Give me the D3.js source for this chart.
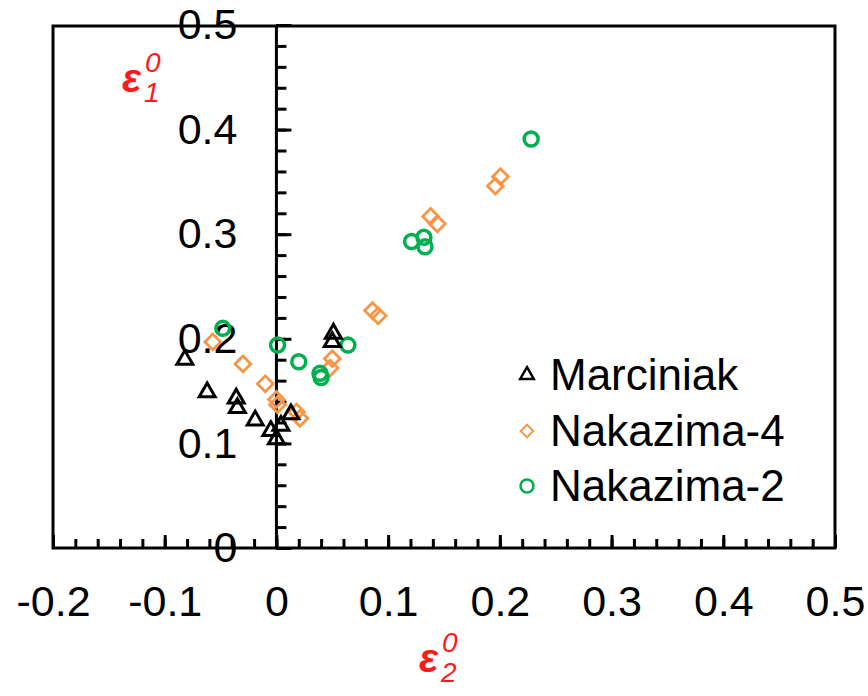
<!DOCTYPE html>
<html>
<head>
<meta charset="utf-8">
<script src="https://cdn.jsdelivr.net/npm/d3@7"></script>
<style>
  body { margin: 0; background: #fff; }
  text { font-family: "Liberation Sans", Arial, sans-serif; }
</style>
</head>
<body>
<svg></svg>
<script>
let width = 868;
let height = 696;

// data
let marciniakX = [-0.082, -0.062, -0.036, -0.035, -0.019, -0.005, 0.000, 0.004, 0.013, 0.051, 0.050];
let marciniakY = [0.180, 0.149, 0.143, 0.134, 0.122, 0.112, 0.104, 0.117, 0.128, 0.205, 0.197];

let naka4X = [-0.057, -0.030, -0.010, 0.000, 0.001, 0.018, 0.021, 0.048, 0.050, 0.086, 0.091, 0.138, 0.144, 0.196, 0.2005];
let naka4Y = [0.197, 0.176, 0.157, 0.142, 0.137, 0.130, 0.124, 0.172, 0.181, 0.227, 0.222, 0.317, 0.310, 0.346, 0.355];

let naka2X = [-0.048, 0.001, 0.020, 0.039, 0.040, 0.064, 0.121, 0.132, 0.133, 0.228];
let naka2Y = [0.210, 0.194, 0.178, 0.167, 0.163, 0.194, 0.293, 0.297, 0.288, 0.391];

let xTicks = [-0.2, -0.1, 0, 0.1, 0.2, 0.3, 0.4, 0.5];
let yTicks = [0, 0.1, 0.2, 0.3, 0.4, 0.5];
let seriesNames = ["Marciniak", "Nakazima-4", "Nakazima-2"];

let plotLeft = 53, plotRight = 835, plotTop = 25, plotBottom = 548;

let svg = d3.select('svg').attr('width', width).attr('height', height);

let xScale = d3.scaleLinear().domain([-0.2, 0.5]).range([plotLeft, plotRight]);
let yScale = d3.scaleLinear().domain([0, 0.5]).range([plotBottom, plotTop]);

//minor ticks every 0.02
let xMinor = d3.range(-10, 26).map(i => +(i * 0.02).toFixed(2));
let yMinor = d3.range(0, 26).map(i => +(i * 0.02).toFixed(2));

//frame
svg.append('rect')
    .attr('x', plotLeft).attr('y', plotTop + 1)
    .attr('width', plotRight - plotLeft).attr('height', plotBottom - plotTop - 1)
    .attr('fill', 'none').attr('stroke', '#000').attr('stroke-width', 3);

//bottom ticks pointing up
let xMinorAxis = d3.axisTop(xScale).tickValues(xMinor).tickSize(9).tickFormat('');
svg.append('g').attr('transform', 'translate(0,' + plotBottom + ')').call(xMinorAxis)
    .call(g => g.select('.domain').remove())
    .selectAll('line').attr('stroke-width', 3);
let xMajorAxis = d3.axisTop(xScale).tickValues(xTicks).tickSize(13).tickFormat('');
svg.append('g').attr('transform', 'translate(0,' + plotBottom + ')').call(xMajorAxis)
    .call(g => g.select('.domain').remove())
    .selectAll('line').attr('stroke-width', 3);

//x labels
let xLabels = d3.axisBottom(xScale).tickValues(xTicks).tickSize(0).tickPadding(37)
    .tickFormat(d => String(+d.toFixed(1)));
svg.append('g').attr('transform', 'translate(0,' + plotBottom + ')').call(xLabels)
    .call(g => g.select('.domain').remove())
    .selectAll('text').attr('font-size', 43).attr('fill', '#000')
    .style('font-family', '"Liberation Sans", Arial, sans-serif');

//y axis through x = 0
let x0 = xScale(0);
svg.append('line')
    .attr('x1', x0).attr('x2', x0).attr('y1', plotTop).attr('y2', plotBottom)
    .attr('stroke', '#000').attr('stroke-width', 3);
let yMinorAxis = d3.axisRight(yScale).tickValues(yMinor).tickSize(10).tickFormat('');
svg.append('g').attr('transform', 'translate(' + x0 + ',0)').call(yMinorAxis)
    .call(g => g.select('.domain').remove())
    .selectAll('line').attr('stroke-width', 3);
let yMajorAxis = d3.axisRight(yScale).tickValues(yTicks).tickSize(15).tickFormat('');
svg.append('g').attr('transform', 'translate(' + x0 + ',0)').call(yMajorAxis)
    .call(g => g.select('.domain').remove())
    .selectAll('line').attr('stroke-width', 3);

let yLabels = d3.axisLeft(yScale).tickValues(yTicks).tickSize(0).tickPadding(39)
    .tickFormat(d => String(+d.toFixed(1)));
svg.append('g').attr('transform', 'translate(' + x0 + ',0)').call(yLabels)
    .call(g => g.select('.domain').remove())
    .selectAll('text').attr('font-size', 43).attr('fill', '#000')
    .style('font-family', '"Liberation Sans", Arial, sans-serif');

//axis titles
function epsLabel(x, y, sub) {
    let g = svg.append('g').attr('fill', '#ff1a1a').attr('font-style', 'italic');
    g.append('text').attr('x', x).attr('y', y).attr('font-size', 40).attr('font-weight', 'bold').text('ε');
    g.append('text').attr('x', x + 23).attr('y', y - 20).attr('font-size', 28).text('0');
    g.append('text').attr('x', x + 22).attr('y', y + 10).attr('font-size', 28).text(sub);
}
epsLabel(122, 92, '1');
epsLabel(419, 672, '2');

//markers
let orange = '#f79646', green = '#00b050';
let tri = d3.symbol().type(d3.symbolTriangle).size(110);
let sq = d3.symbol().type(d3.symbolSquare).size(125);

let marciniak = marciniakX.map((v, i) => ({x: v, y: marciniakY[i]}));
let naka4 = naka4X.map((v, i) => ({x: v, y: naka4Y[i]}));
let naka2 = naka2X.map((v, i) => ({x: v, y: naka2Y[i]}));

svg.append('g').selectAll('path').data(naka4).join('path')
    .attr('d', sq)
    .attr('transform', d => 'translate(' + xScale(d.x) + ',' + yScale(d.y) + ') rotate(45)')
    .attr('fill', 'none').attr('stroke', orange).attr('stroke-width', 2.8);

svg.append('g').selectAll('circle').data(naka2).join('circle')
    .attr('cx', d => xScale(d.x)).attr('cy', d => yScale(d.y)).attr('r', 7)
    .attr('fill', 'none').attr('stroke', green).attr('stroke-width', 3.5);

svg.append('g').selectAll('path').data(marciniak).join('path')
    .attr('d', tri)
    .attr('transform', d => 'translate(' + xScale(d.x) + ',' + yScale(d.y) + ')')
    .attr('fill', 'none').attr('stroke', '#000').attr('stroke-width', 3);

//legend
let legend = svg.append('g');
let legendY = [375, 431, 486];
seriesNames.forEach((name, i) => {
    let cy = legendY[i];
    if (i === 0) {
        legend.append('path').attr('d', d3.symbol().type(d3.symbolTriangle).size(80))
            .attr('transform', 'translate(527,' + cy + ')')
            .attr('fill', 'none').attr('stroke', '#000').attr('stroke-width', 2.5);
    } else if (i === 1) {
        legend.append('path').attr('d', d3.symbol().type(d3.symbolSquare).size(80))
            .attr('transform', 'translate(527,' + cy + ') rotate(45)')
            .attr('fill', 'none').attr('stroke', orange).attr('stroke-width', 2);
    } else {
        legend.append('circle').attr('cx', 527).attr('cy', cy).attr('r', 6.5)
            .attr('fill', 'none').attr('stroke', green).attr('stroke-width', 2.5);
    }
    legend.append('text').attr('x', 550).attr('y', cy + 15)
        .attr('font-size', 44).attr('fill', '#000').text(name);
});
</script>
</body>
</html>
